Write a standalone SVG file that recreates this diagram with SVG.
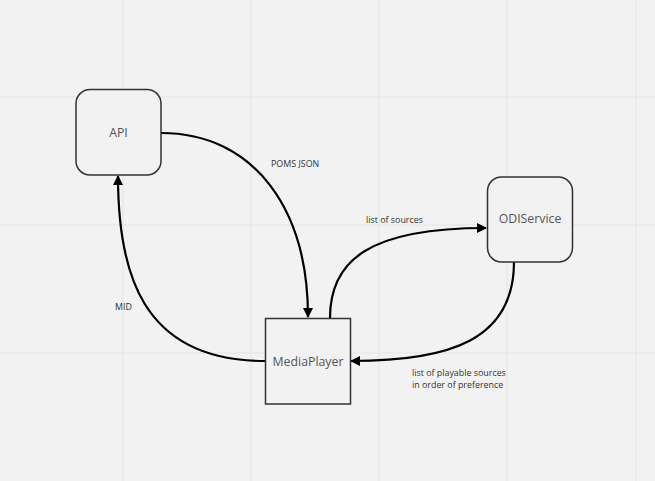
<svg xmlns="http://www.w3.org/2000/svg" width="655" height="481" viewBox="0 0 655 481">
<style>
.grid{stroke:#e4e4e4;stroke-width:1}
.node{fill:#f2f2f2;stroke:#333;stroke-width:1.5}
.ntext{font-family:"Open Sans","Noto Sans",sans-serif;font-size:12.3px;fill:#555;text-anchor:middle;dominant-baseline:central}
.edge{fill:none;stroke:#000;stroke-width:2.2}
.label{font-family:"Open Sans","Noto Sans",sans-serif;font-size:8.9px;fill:#333}
</style>
<defs>
<marker id="arrow" viewBox="0 0 10 10" refX="9" refY="5" markerWidth="10" markerHeight="10" markerUnits="userSpaceOnUse" orient="auto">
<path d="M0,0 L10,5 L0,10 z" fill="#000"/>
</marker>
</defs>
<rect width="655" height="481" fill="#f2f2f2"/>
<g id="grid">
<line class="grid" x1="123" y1="0" x2="123" y2="481"/>
<line class="grid" x1="251" y1="0" x2="251" y2="481"/>
<line class="grid" x1="379" y1="0" x2="379" y2="481"/>
<line class="grid" x1="507" y1="0" x2="507" y2="481"/>
<line class="grid" x1="636" y1="0" x2="636" y2="481"/>
<line class="grid" x1="0" y1="97" x2="655" y2="97"/>
<line class="grid" x1="0" y1="225" x2="655" y2="225"/>
<line class="grid" x1="0" y1="353" x2="655" y2="353"/>
</g>
<g id="connectors">
<path class="edge" d="M161,133 C255,133 308,210 308,317" marker-end="url(#arrow)"/>
<path class="edge" d="M265,361 C140,361 118,270 118,176" marker-end="url(#arrow)"/>
<path class="edge" d="M330,318 C330,260 370,228 486,228" marker-end="url(#arrow)"/>
<path class="edge" d="M514,262 C514,340 450,361 351,361" marker-end="url(#arrow)"/>
<text class="label" x="271" y="167">POMS JSON</text>
<text class="label" x="115" y="310">MID</text>
<text class="label" x="366" y="223">list of sources</text>
<text class="label" x="412" y="375.5">list of playable sources</text>
<text class="label" x="412" y="387.5">in order of preference</text>
</g>
<g id="api">
<rect class="node" x="76" y="89.5" width="85" height="85.5" rx="14"/>
<text class="ntext" x="118.5" y="132">API</text>
</g>
<g id="mediaplayer">
<rect class="node" x="265.5" y="318.5" width="85" height="85.5"/>
<text class="ntext" x="308" y="361">MediaPlayer</text>
</g>
<g id="odiservice">
<rect class="node" x="487.5" y="177" width="85" height="85" rx="14"/>
<text class="ntext" x="530" y="218">ODIService</text>
</g>
</svg>
